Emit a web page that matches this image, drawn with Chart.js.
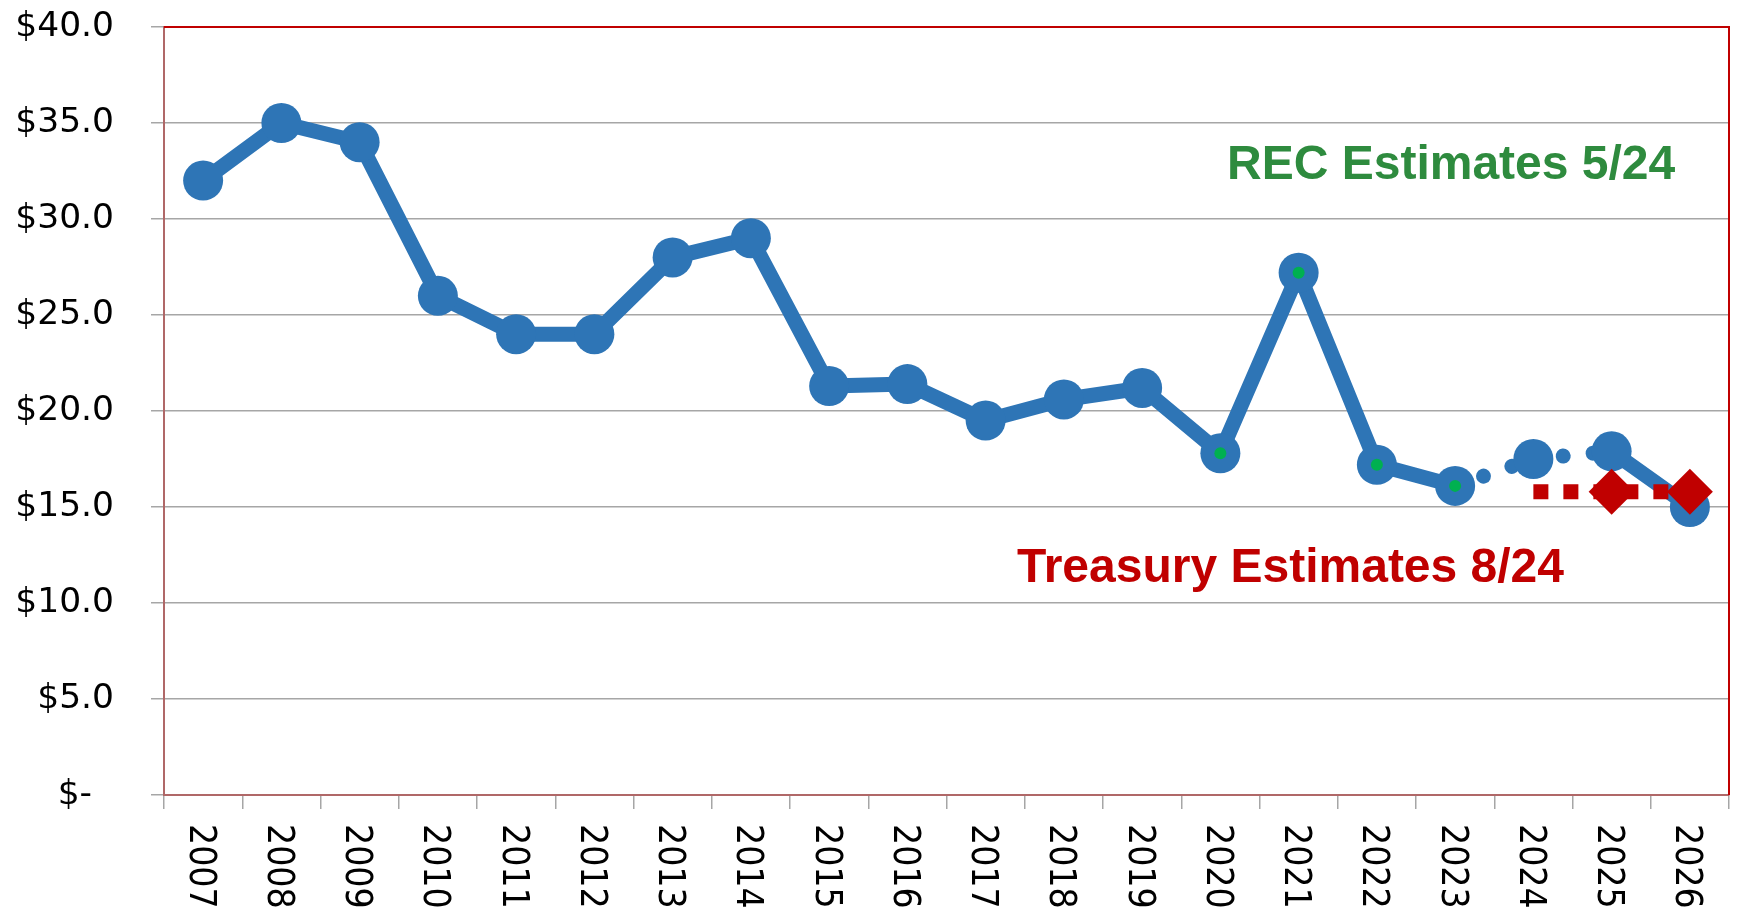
<!DOCTYPE html>
<html><head><meta charset="utf-8">
<script src="https://cdn.jsdelivr.net/npm/chart.js@4"></script>
<style>html,body{margin:0;padding:0;background:#fff}canvas{display:block}</style>
</head><body>
<canvas id="c" width="1737" height="912"></canvas>
<script>
const years = ['2007','2008','2009','2010','2011','2012','2013','2014','2015','2016','2017','2018','2019','2020','2021','2022','2023','2024','2025','2026'];
const recValues = [32.0, 35.0, 34.0, 26.0, 24.0, 24.0, 28.0, 29.0, 21.3, 21.4, 19.5, 20.6, 21.2, 17.8, 27.2, 17.2, 16.1, 17.5, 17.9, 15.0];
const recCore = [null, null, null, null, null, null, null, null, null, null, null, null, null, 17.8, 27.2, 17.2, 16.1, null, null, null];
const treasuryValues = [null, null, null, null, null, null, null, null, null, null, null, null, null, null, null, null, null, 15.8, 15.8, 15.8];
const treasuryMarked = [false, false, false, false, false, false, false, false, false, false, false, false, false, false, false, false, false, false, true, true];
const yTicks = [0, 5, 10, 15, 20, 25, 30, 35, 40];
const recLabel = 'REC Estimates 5/24';
const treasuryLabel = 'Treasury Estimates 8/24';

const BLUE = '#2E75B6', GREEN = '#00B050', RED = '#C00000';

const extras = {
  id: 'extras',
  afterDraw(chart) {
    const ctx = chart.ctx, a = chart.chartArea, xs = chart.scales.x;
    ctx.save();
    ctx.strokeStyle = RED; ctx.lineWidth = 2;
    ctx.beginPath();
    ctx.moveTo(a.left, a.top); ctx.lineTo(a.right, a.top); ctx.lineTo(a.right, a.bottom);
    ctx.stroke();
    const fs = 37;
    ctx.fillStyle = '#000';
    ctx.font = fs + 'px "DejaVu Sans Condensed", "DejaVu Sans"';
    ctx.textAlign = 'left'; ctx.textBaseline = 'alphabetic';
    years.forEach((y, i) => {
      const x = xs.getPixelForValue(i);
      ctx.save();
      ctx.translate(x, a.bottom + 29);
      ctx.rotate(Math.PI / 2);
      ctx.fillText(y, 0, 0.3645 * fs);
      ctx.restore();
    });
    ctx.font = 'bold 48px "Liberation Sans", Arial, sans-serif';
    ctx.fillStyle = '#2E8B3E';
    ctx.fillText(recLabel, 1227, 179);
    ctx.fillStyle = RED;
    ctx.fillText(treasuryLabel, 1017, 582);
    ctx.restore();
  }
};

new Chart(document.getElementById('c'), {
  type: 'line',
  data: {
    labels: years,
    datasets: [
      {
        label: 'REC',
        data: recValues,
        borderColor: BLUE,
        backgroundColor: BLUE,
        borderWidth: 15,
        borderCapStyle: 'round',
        borderJoinStyle: 'round',
        pointRadius: 20,
        pointBorderWidth: 0,
        pointBackgroundColor: BLUE,
        pointHoverRadius: 20,
        order: 3,
        segment: {
          borderDash: c => c.p0DataIndex === 16 ? [0.001, 30] : (c.p0DataIndex === 17 ? [0.002, 30] : undefined)
        }
      },
      {
        label: 'REC core',
        data: recCore,
        showLine: false,
        pointRadius: 6,
        pointBorderWidth: 0,
        pointBackgroundColor: GREEN,
        borderColor: GREEN,
        order: 2
      },
      {
        label: 'Treasury',
        data: treasuryValues,
        borderColor: RED,
        backgroundColor: RED,
        borderWidth: 15,
        borderDash: [15, 15],
        borderCapStyle: 'butt',
        pointStyle: 'rectRot',
        pointRadius: treasuryMarked.map(m => m ? 23 : 0),
        pointBorderWidth: 0,
        pointBackgroundColor: RED,
        order: 1
      }
    ]
  },
  options: {
    responsive: false,
    animation: false,
    devicePixelRatio: 1,
    events: [],
    layout: { autoPadding: false, padding: { top: 27, right: 8, left: 0, bottom: 0 } },
    plugins: { legend: { display: false }, tooltip: { enabled: false } },
    scales: {
      x: {
        type: 'category',
        offset: true,
        grid: { offset: true, drawOnChartArea: false, drawTicks: true, tickLength: 14, color: '#a6a6a6', lineWidth: 1.5 },
        border: { color: '#b06868', width: 2 },
        ticks: { display: false },
        afterFit: s => { s.height = 117; s.paddingLeft = 0; s.paddingRight = 0; s.paddingTop = 0; s.paddingBottom = 0; }
      },
      y: {
        min: 0, max: 40,
        afterBuildTicks: s => { s.ticks = yTicks.map(v => ({ value: v })); },
        grid: { color: '#a6a6a6', lineWidth: 1.5, tickLength: 13 },
        border: { color: '#b06868', width: 2 },
        ticks: {
          padding: 37,
          color: '#000',
          font: { family: '"DejaVu Sans"', size: 34.5 },
          callback: v => v === 0 ? '$-  ' : '$' + Number(v).toFixed(1)
        },
        afterFit: s => { s.width = 164; s.paddingLeft = 0; s.paddingRight = 0; s.paddingTop = 0; s.paddingBottom = 0; }
      }
    }
  },
  plugins: [extras]
});
</script>
</body></html>
